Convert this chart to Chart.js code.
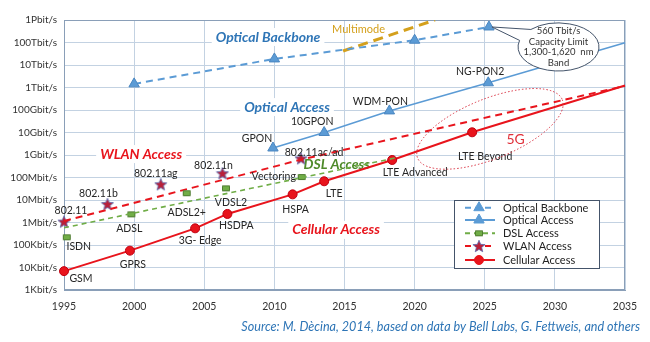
<!DOCTYPE html>
<html><head><meta charset="utf-8">
<script src="https://cdn.jsdelivr.net/npm/chart.js@4/dist/chart.umd.min.js"></script>
<style>html,body{margin:0;padding:0;background:#fff}#wrap{width:650px;height:342px;position:relative}</style>
</head><body><div id="wrap"><canvas id="c"></canvas></div>
<script>
// ---------- data ----------
const xTicks = [1995, 2000, 2005, 2010, 2015, 2020, 2025, 2030, 2035];
const yTickValues = [1e3, 1e4, 1e5, 1e6, 1e7, 1e8, 1e9, 1e10, 1e11, 1e12, 1e13, 1e14, 1e15];
const yTickLabels = ['1Kbit/s', '10Kbit/s', '100Kbit/s', '1Mbit/s', '10Mbit/s', '100Mbit/s', '1Gbit/s',
  '10Gbit/s', '100Gbit/s', '1Tbit/s', '10Tbit/s', '100Tbit/s', '1Pbit/s'];

const backboneYears = [2000, 2010, 2020, 2025.3];
const backboneValues = [1.45e12, 1.86e13, 1.26e14, 4.9e14];

const multimodeYears = [2014.9, 2021.45];
const multimodeValues = [4.2e13, 1e15];

const opticalAccessNames = ['GPON', '10GPON', 'WDM-PON', 'NG-PON2'];
const opticalAccessYears = [2009.9, 2013.55, 2018.2, 2025.25, 2035];
const opticalAccessValues = [2.05e9, 1.0e10, 9.1e10, 1.62e12, 9.8e13];

const dslNames = ['ISDN', 'ADSL', 'ADSL2+', 'VDSL2', 'Vectoring'];
const dslYears = [1995.2, 1999.8, 2003.75, 2006.55, 2011.95];
const dslValues = [2.2e5, 2.3e6, 2.0e7, 3.3e7, 1.05e8];
const dslTrendYears = [1995, 2018.8];
const dslTrendValues = [5.8e5, 7.8e8];

const wlanNames = ['802.11', '802.11b', '802.11ag', '802.11n', '802.11ac/ad'];
const wlanYears = [1995, 1998.1, 2001.9, 2006.3, 2011.9];
const wlanValues = [1.1e6, 6.6e6, 5.0e7, 1.55e8, 7.1e8];
const wlanTrendYears = [1995, 2011.8, 2035];
const wlanTrendValues = [1.17e6, 6.0e8, 1.17e12];

const cellularNames = ['GSM', 'GPRS', '3G- Edge', 'HSDPA', 'HSPA', 'LTE', 'LTE Advanced', 'LTE Beyond'];
const cellularYears = [1995, 1999.7, 2004.35, 2006.65, 2011.3, 2013.55, 2018.4, 2024.1, 2035];
const cellularValues = [6.9e3, 5.6e4, 5.5e5, 2.4e6, 1.78e7, 6.8e7, 6.0e8, 1.02e10, 1.23e12];

// ---------- styles ----------
const FONT = "Lato, 'Open Sans', sans-serif";
const BLUE = '#5b9bd5', BLUE_TXT = '#2e75b6', RED = '#e8141c', GREEN = '#70ad47', GREEN_TXT = '#4e8a2a', GOLD = '#d4a01c';
const GRID = '#c3d2e2', AXIS = '#8a9fb8';

const pts = (xs, ys) => xs.map((x, i) => ({x, y: ys[i]}));

const starImg = (() => {
  const c = document.createElement('canvas'); c.width = 14; c.height = 14;
  const g = c.getContext('2d'); g.beginPath();
  for (let i = 0; i < 10; i++) {
    const r = i % 2 ? 2.8 : 6.4, a = -Math.PI / 2 + i * Math.PI / 5;
    g.lineTo(7 + r * Math.cos(a), 7.6 + r * Math.sin(a));
  }
  g.closePath(); g.fillStyle = '#b8203a'; g.fill();
  g.strokeStyle = '#5b6fb3'; g.lineWidth = 0.8; g.stroke();
  return c;
})();
const squareImg = (() => {
  const c = document.createElement('canvas'); c.width = 10; c.height = 8;
  const g = c.getContext('2d'); g.beginPath();
  g.rect(1.5, 1.5, 7, 5); g.fillStyle = GREEN; g.fill();
  g.strokeStyle = '#4f7d31'; g.lineWidth = 1; g.stroke();
  return c;
})();

const markerRadius = (n, r) => (ctx) => ctx.dataIndex < n ? r : 0;

// label offsets (pixels) relative to the marker they describe
const labelOffsets = {
  opt: [[-16, -9], [-12, -11], [-9, -9], [-8, -11]],
  dsl: [[12, 9], [-2, 14], [0, 19], [5, 14], [-28, 0]],
  wlan: [[7, -11], [-9, -10], [-5, -11], [-9, -8], [13, -6]],
  cell: [[17, 7], [3, 14], [5, 12], [9, 12], [3, 15], [10, 12], [23, 13], [13, 24]]
};

const categoryLabels = [
  {text: 'Optical Backbone', x: 2009.55, y: 1.75e14, color: BLUE_TXT, bg: true},
  {text: 'Optical Access', x: 2010.9, y: 1.35e11, color: BLUE_TXT, bg: true},
  {text: 'WLAN Access', x: 2000.5, y: 1.1e9, color: RED, bg: true},
  {text: 'DSL Access', x: 2014.45, y: 3.6e8, color: GREEN_TXT, bg: false},
  {text: 'Cellular Access', x: 2014.4, y: 4.7e5, color: RED, bg: true}
];

function txt(ctx, s, x, y, font, color, align) {
  ctx.font = font; ctx.fillStyle = color; ctx.textAlign = align || 'center'; ctx.textBaseline = 'middle';
  ctx.fillText(s, x, y);
}

const annot = {
  id: 'annot',
  beforeDatasetsDraw(chart) {
    const {ctx, chartArea: a, scales: {x, y}} = chart;
    ctx.save();
    ctx.strokeStyle = AXIS; ctx.lineWidth = 1;
    ctx.strokeRect(a.left + 0.5, a.top + 0.5, a.right - a.left - 1, a.bottom - a.top - 1);
    const f = `italic bold 14px ${FONT}`;
    categoryLabels.forEach(l => {
      const px = x.getPixelForValue(l.x), py = y.getPixelForValue(l.y);
      ctx.font = f;
      const w = ctx.measureText(l.text).width;
      if (l.bg) { ctx.fillStyle = '#fff'; ctx.fillRect(px - w / 2 - 4, py - 9, w + 8, 18); }
      txt(ctx, l.text, px, py, f, l.color);
    });
    txt(ctx, 'Multimode', x.getPixelForValue(2016.0), y.getPixelForValue(4e14), `11px ${FONT}`, GOLD);
    ctx.restore();
  },
  afterDatasetsDraw(chart) {
    const {ctx, chartArea: a, scales: {x, y}} = chart;
    ctx.save();
    const lf = `10.5px ${FONT}`, lc = '#262626';
    const put = (names, xs, ys, offs) => names.forEach((n, i) => {
      txt(ctx, n, x.getPixelForValue(xs[i]) + offs[i][0], y.getPixelForValue(ys[i]) + offs[i][1], lf, lc);
    });
    put(opticalAccessNames, opticalAccessYears, opticalAccessValues, labelOffsets.opt);
    put(dslNames, dslYears, dslValues, labelOffsets.dsl);
    put(wlanNames, wlanYears, wlanValues, labelOffsets.wlan);
    put(cellularNames, cellularYears, cellularValues, labelOffsets.cell);

    // 5G ellipse
    const ex = x.getPixelForValue(2025.37), ey = y.getPixelForValue(1.45e10);
    ctx.beginPath(); ctx.ellipse(ex, ey, 78, 30, -22 * Math.PI / 180, 0, Math.PI * 2);
    ctx.setLineDash([1.5, 2]); ctx.strokeStyle = '#d83040'; ctx.lineWidth = 1; ctx.stroke(); ctx.setLineDash([]);
    txt(ctx, '5G', x.getPixelForValue(2027.2), y.getPixelForValue(4.7e9), `14px ${FONT}`, '#e0303a');

    // callout
    const tipX = x.getPixelForValue(backboneYears[3]), tipY = y.getPixelForValue(backboneValues[3]);
    const cx = x.getPixelForValue(2030.26), cy = y.getPixelForValue(6.3e13), rx = 40.5, ry = 24;
    const t1 = 227 * Math.PI / 180, t2 = 196 * Math.PI / 180;
    ctx.beginPath();
    ctx.moveTo(cx + rx * Math.cos(t1), cy + ry * Math.sin(t1));
    ctx.lineTo(tipX + 3, tipY);
    ctx.lineTo(cx + rx * Math.cos(t2), cy + ry * Math.sin(t2));
    ctx.ellipse(cx, cy, rx, ry, 0, t2, t1 - 2 * Math.PI, true);
    ctx.closePath();
    ctx.fillStyle = '#fff'; ctx.fill();
    ctx.strokeStyle = '#44546a'; ctx.lineWidth = 1; ctx.stroke();
    const cf = `9.5px ${FONT}`;
    ['560 Tbit/s', 'Capacity Limit', '1,300-1,620  nm', 'Band'].forEach((s, i) =>
      txt(ctx, s, cx, cy - 16 + i * 10.6, cf, '#333'));

    // legend
    const L = {x: a.right - 171, y: a.bottom - 90, w: 145, h: 68};
    ctx.fillStyle = '#fff'; ctx.fillRect(L.x, L.y, L.w, L.h);
    ctx.strokeStyle = '#44546a'; ctx.lineWidth = 1; ctx.strokeRect(L.x + 0.5, L.y + 0.5, L.w, L.h);
    const items = [
      {t: 'Optical Backbone', c: BLUE, dash: [6, 4], lw: 2, ps: 'triangle', r: 6, fill: BLUE},
      {t: 'Optical Access', c: BLUE, dash: [], lw: 2, ps: 'triangle', r: 6, fill: BLUE},
      {t: 'DSL Access', c: GREEN, dash: [5, 4], lw: 2, ps: squareImg, r: 5},
      {t: 'WLAN Access', c: RED, dash: [6, 4], lw: 2, ps: starImg, r: 5},
      {t: 'Cellular Access', c: RED, dash: [], lw: 2, ps: 'circle', r: 4.5, fill: RED}
    ];
    const rows = [7.7, 20, 33.3, 46, 60];
    items.forEach((it, i) => {
      const ry2 = L.y + rows[i];
      ctx.beginPath(); ctx.setLineDash(it.dash); ctx.strokeStyle = it.c; ctx.lineWidth = it.lw;
      ctx.moveTo(L.x + 11, ry2); ctx.lineTo(L.x + 41, ry2); ctx.stroke(); ctx.setLineDash([]);
      ctx.fillStyle = it.fill || it.c; ctx.strokeStyle = it.c; ctx.lineWidth = 1;
      Chart.helpers.drawPoint(ctx, {pointStyle: it.ps, radius: it.r, rotation: 0, borderWidth: 1}, L.x + 25, ry2);
      txt(ctx, it.t, L.x + 49, ry2 + 0.5, `11px ${FONT}`, '#222', 'left');
    });

    // source
    txt(ctx, 'Source: M. Dècina, 2014, based on data by Bell Labs, G. Fettweis, and others',
      640, 327, `italic 12.6px ${FONT}`, BLUE_TXT, 'right');
    ctx.restore();
  }
};

new Chart(document.getElementById('c'), {
  type: 'line',
  data: {
    datasets: [
      {label: 'Optical Backbone', data: pts(backboneYears, backboneValues), borderColor: BLUE, backgroundColor: BLUE,
        borderDash: [7, 5], borderWidth: 2, pointStyle: 'triangle', pointRadius: 6, pointBorderColor: '#4a86c0',
        pointBorderWidth: 1, clip: false},
      {label: 'Multimode', data: pts(multimodeYears, multimodeValues), borderColor: GOLD, borderDash: [10, 6],
        borderWidth: 3, pointRadius: 0},
      {label: 'Optical Access', data: pts(opticalAccessYears, opticalAccessValues), borderColor: BLUE,
        backgroundColor: BLUE, borderWidth: 1.5, pointStyle: 'triangle',
        pointRadius: markerRadius(opticalAccessNames.length, 6), pointBorderColor: '#4a86c0', pointBorderWidth: 1, clip: false},
      {label: 'DSL trend', data: pts(dslTrendYears, dslTrendValues), borderColor: GREEN, borderDash: [5, 4],
        borderWidth: 1.6, pointRadius: 0},
      {label: 'DSL Access', data: pts(dslYears, dslValues), showLine: false, pointStyle: squareImg, pointRadius: 5, clip: false},
      {label: 'WLAN trend', data: pts(wlanTrendYears, wlanTrendValues), borderColor: RED, borderDash: [7, 5],
        borderWidth: 2, pointRadius: 0},
      {label: 'WLAN Access', data: pts(wlanYears, wlanValues), showLine: false, pointStyle: starImg, pointRadius: 5, clip: false},
      {label: 'Cellular Access', data: pts(cellularYears, cellularValues), borderColor: RED, backgroundColor: RED,
        borderWidth: 2, pointStyle: 'circle', pointRadius: markerRadius(cellularNames.length, 4.5),
        pointBorderColor: '#c00010', pointBorderWidth: 1, clip: false}
    ]
  },
  options: {
    responsive: true, maintainAspectRatio: false, animation: false, events: [],
    layout: {padding: {left: 0, right: 25, top: 20, bottom: 22}},
    plugins: {legend: {display: false}, tooltip: {enabled: false}},
    scales: {
      x: {
        type: 'linear', min: 1995, max: 2035,
        afterBuildTicks: s => { s.ticks = xTicks.map(v => ({value: v})); },
        afterFit: s => { s.height = 30; },
        ticks: {callback: v => String(v), font: {family: FONT, size: 10.5}, color: '#333', padding: 10, maxRotation: 0, autoSkip: false},
        grid: {color: GRID, drawTicks: false},
        border: {color: AXIS}
      },
      y: {
        type: 'logarithmic', min: 1e3, max: 1e15,
        afterBuildTicks: s => { s.ticks = yTickValues.map(v => ({value: v})); },
        afterFit: s => { s.width = 64; },
        ticks: {callback: (v, i) => yTickLabels[i], font: {family: FONT, size: 10}, color: '#333', padding: 7, autoSkip: false},
        grid: {color: GRID, drawTicks: false},
        border: {color: AXIS}
      }
    }
  },
  plugins: [annot]
});
</script>
</body></html>
